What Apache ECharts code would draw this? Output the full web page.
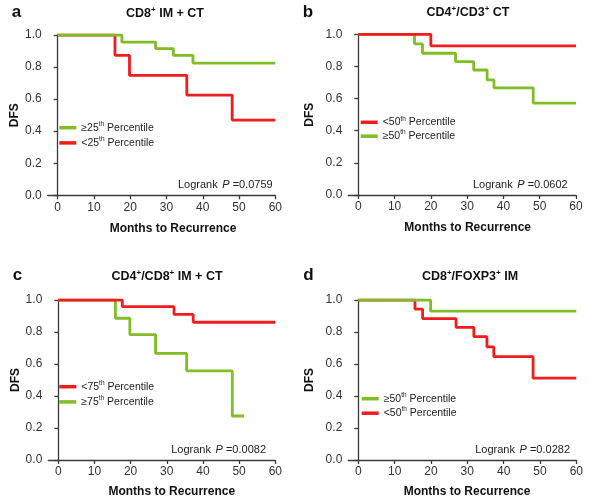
<!DOCTYPE html>
<html><head><meta charset="utf-8">
<script src="https://cdn.jsdelivr.net/npm/echarts@6/dist/echarts.min.js"></script>
<style>html,body{margin:0;padding:0;background:#fff}#c{width:600px;height:504px}</style>
</head><body><div id="c"></div>
<script>
// ---- data (months, DFS) ----
const xTicks = [0, 10, 20, 30, 40, 50, 60];
const yTicks = [0, 0.2, 0.4, 0.6, 0.8, 1.0];
// a: CD8+ IM + CT
const aHigh = [[0,1],[17.7,0.956],[27.0,0.915],[31.9,0.873],[37.3,0.825],[60,0.825]];
const aLow  = [[0,1],[15.8,0.873],[19.8,0.748],[35.6,0.625],[48.1,0.469],[60,0.469]];
// b: CD4+/CD3+ CT
const bLow  = [[0,1],[20.0,0.928],[60,0.928]];
const bHigh = [[0,1],[15.5,0.94],[17.7,0.882],[26.8,0.830],[31.8,0.778],[35.5,0.716],[37.4,0.667],[48.2,0.572],[60,0.572]];
// c: CD4+/CD8+ IM + CT
const cLow  = [[0,1],[17.7,0.958],[32.0,0.910],[37.3,0.861],[60,0.861]];
const cHigh = [[0,1],[15.8,0.886],[19.8,0.784],[26.9,0.666],[35.5,0.557],[48.1,0.275],[51.4,0.275]];
// d: CD8+/FOXP3+ IM
const dHigh = [[0,1],[19.9,0.93],[60,0.93]];
const dLow  = [[0,1],[15.6,0.943],[17.7,0.884],[26.9,0.829],[31.8,0.771],[35.4,0.707],[37.3,0.646],[48.1,0.512],[60,0.512]];
const pValues = ['0.0759', '0.0602', '0.0082', '0.0282'];
const panelLetters = ['a', 'b', 'c', 'd'];

const GREEN = '#80bd26', RED = '#f21c1c';
const FONT = '"Liberation Sans", Arial, sans-serif';
const AX = '#3a3a3a';

const grids = [
  {left: 47.7, top: 35, width: 227.6, height: 160.3},
  {left: 348.3, top: 34.3, width: 227.7, height: 160.7},
  {left: 48.3, top: 300, width: 227, height: 160},
  {left: 348.3, top: 300, width: 228, height: 160}
];
const xNameShift = [23, 11, 20, 9.5];
const xNameGap = [27, 27, 26, 26];
const yNameGap = [26, 33, 26, 33];

const xAxes = grids.map((g, i) => ({
  type: 'value', gridIndex: i, min: -2.75, max: 60,
  name: 'Months to Recurrence', nameLocation: 'middle', nameGap: xNameGap[i],
  nameTextStyle: {fontFamily: FONT, fontSize: 12, fontWeight: 'bold', color: '#111', padding: [0, 0, 0, xNameShift[i]]},
  axisLine: {show: true, lineStyle: {color: AX, width: 1.3}},
  axisTick: {show: true, length: 4, lineStyle: {color: AX, width: 1.3}, customValues: xTicks},
  axisLabel: {fontFamily: FONT, fontSize: 12, color: '#333', margin: 6, customValues: xTicks},
  splitLine: {show: false}
}));
const yAxes = grids.map((g, i) => ({
  type: 'value', gridIndex: i, min: 0, max: 1, interval: 0.2,
  name: 'DFS', nameLocation: 'middle', nameGap: yNameGap[i],
  nameTextStyle: {fontFamily: FONT, fontSize: 12, fontWeight: 'bold', color: '#111'},
  axisLine: {show: true, lineStyle: {color: AX, width: 1.3}},
  axisTick: {show: true, length: 4, lineStyle: {color: AX, width: 1.3}},
  axisLabel: {fontFamily: FONT, fontSize: 12, color: '#333', margin: 6, formatter: v => v.toFixed(1)},
  splitLine: {show: false}
}));

function km(name, idx, data, color) {
  return {
    name: name, type: 'line', xAxisIndex: idx, yAxisIndex: idx, data: data,
    step: 'end', symbol: 'none', silent: true, animation: false,
    lineStyle: {color: color, width: 2.8}, itemStyle: {color: color}
  };
}
// lower curve first, upper curve drawn on top
const series = [
  km('aLow', 0, aLow, RED), km('aHigh', 0, aHigh, GREEN),
  km('bHigh', 1, bHigh, GREEN), km('bLow', 1, bLow, RED),
  km('cHigh', 2, cHigh, GREEN), km('cLow', 2, cLow, RED),
  km('dLow', 3, dLow, RED), km('dHigh', 3, dHigh, GREEN)
];
const legendText = {
  aHigh: '{n|≥25}{s|th}{n| Percentile}', aLow: '{n|<25}{s|th}{n| Percentile}',
  bLow: '{n|<50}{s|th}{n| Percentile}', bHigh: '{n|≥50}{s|th}{n| Percentile}',
  cLow: '{n|<75}{s|th}{n| Percentile}', cHigh: '{n|≥75}{s|th}{n| Percentile}',
  dHigh: '{n|≥50}{s|th}{n| Percentile}', dLow: '{n|<50}{s|th}{n| Percentile}'
};
const richLeg = {
  n: {fontFamily: FONT, fontSize: 10.5, color: '#222', lineHeight: 14},
  s: {fontFamily: FONT, fontSize: 6.5, color: '#222', lineHeight: 8, verticalAlign: 'top'}
};
function leg(data, left, top, gap) {
  return {
    data: data, orient: 'vertical', left: left, top: top, itemGap: gap,
    itemWidth: 17, itemHeight: 3.5, icon: 'rect', selectedMode: false,
    padding: 0, formatter: n => legendText[n],
    textStyle: {rich: richLeg}
  };
}
const legends = [
  leg(['aHigh', 'aLow'], 59.3, 120.7, 2.7),
  leg(['bLow', 'bHigh'], 360.7, 115.3, 1.4),
  leg(['cLow', 'cHigh'], 59.3, 379.7, 2.7),
  leg(['dHigh', 'dLow'], 361.7, 391.7, 2)
];

const richTitle = {
  n: {fontFamily: FONT, fontSize: 12.5, fontWeight: 'bold', fill: '#111', lineHeight: 16},
  s: {fontFamily: FONT, fontSize: 8, fontWeight: 'bold', fill: '#111', lineHeight: 9, verticalAlign: 'top'}
};
const titles = [
  {x: 165, y: 13.9, t: '{n|CD8}{s|+}{n| IM + CT}'},
  {x: 468, y: 13, t: '{n|CD4}{s|+}{n|/CD3}{s|+}{n| CT}'},
  {x: 167, y: 276.3, t: '{n|CD4}{s|+}{n|/CD8}{s|+}{n| IM + CT}'},
  {x: 470, y: 276.3, t: '{n|CD8}{s|+}{n|/FOXP3}{s|+}{n| IM}'}
];
const letterPos = [[11.7, 12.3], [302.7, 12.3], [12.7, 275], [303.3, 275]];
const logPos = [[272.7, 185.2], [567.7, 184.5], [266, 450], [570, 450]];
const richLog = {
  n: {fontFamily: FONT, fontSize: 11, fill: '#222'},
  i: {fontFamily: FONT, fontSize: 11, fontStyle: 'italic', fill: '#222', padding: [0, 0, 0, 1.5]}
};

const graphic = [];
titles.forEach(t => graphic.push({type: 'text', x: t.x, y: t.y, silent: true,
  style: {text: t.t, rich: richTitle, align: 'center', verticalAlign: 'middle'}}));
panelLetters.forEach((l, i) => graphic.push({type: 'text', x: letterPos[i][0], y: letterPos[i][1], silent: true,
  style: {text: l, font: 'bold 17px ' + FONT, fill: '#111', align: 'left', verticalAlign: 'middle'}}));
pValues.forEach((p, i) => graphic.push({type: 'text', x: logPos[i][0], y: logPos[i][1], silent: true,
  style: {text: '{n|Logrank }{i|P}{n| =' + p + '}', rich: richLog, align: 'right', verticalAlign: 'middle'}}));

const chart = echarts.init(document.getElementById('c'), null, {renderer: 'canvas'});
chart.setOption({
  animation: false,
  backgroundColor: '#fff',
  grid: grids,
  xAxis: xAxes,
  yAxis: yAxes,
  legend: legends,
  series: series,
  graphic: graphic
});
</script></body></html>
